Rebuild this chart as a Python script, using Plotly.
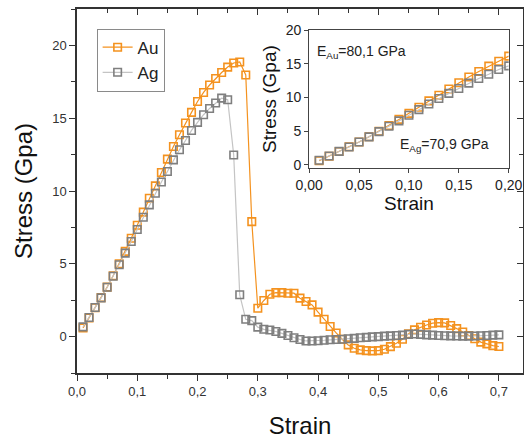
import plotly.graph_objects as go

strain = [round(0.01 * i, 2) for i in range(1, 71)]

stress_au = [0.60, 1.28, 1.98, 2.68, 3.40, 4.18, 5.00, 5.85, 6.75, 7.65,
             8.55, 9.50, 10.35, 11.27, 12.19, 13.06, 13.86, 14.67, 15.40, 16.15,
             16.77, 17.28, 17.73, 18.14, 18.51, 18.79, 18.86, 17.97, 7.90, 1.95,
             2.48, 2.91, 3.02, 3.02, 2.98, 2.98, 2.64, 2.41, 2.18, 1.68,
             1.19, 0.69, 0.25, -0.18, -0.57, -0.80, -0.91, -0.96, -0.98, -0.96,
             -0.87, -0.69, -0.46, -0.18, 0.20, 0.46, 0.64, 0.80, 0.92, 0.96,
             0.94, 0.76, 0.55, 0.32, 0.08, -0.15, -0.38, -0.50, -0.62, -0.68]

stress_ag = [0.67, 1.31, 2.00, 2.66, 3.39, 4.15, 4.93, 5.73, 6.53, 7.36,
             8.20, 9.05, 9.85, 10.62, 11.34, 12.14, 12.83, 13.47, 14.16, 14.71,
             15.24, 15.67, 16.04, 16.38, 16.27, 12.47, 2.87, 1.19, 1.10, 0.65,
             0.50, 0.45, 0.35, 0.22, 0.08, -0.08, -0.20, -0.30, -0.30, -0.28,
             -0.25, -0.22, -0.20, -0.18, -0.15, -0.12, -0.08, -0.05, -0.02, 0.00,
             0.03, 0.05, 0.08, 0.10, 0.15, 0.18, 0.15, 0.12, 0.10, 0.08,
             0.06, 0.05, 0.04, 0.03, 0.03, 0.04, 0.06, 0.08, 0.10, 0.12]

inset_n = 20
label_au = "Au"
label_ag = "Ag"
text_au = "E<sub>Au</sub>=80,1 GPa"
text_ag = "E<sub>Ag</sub>=70,9 GPa"

ORANGE = "#F4921F"
GREY_M = "#7F7F7F"
GREY_L = "#C4C4C4"
FONT = "Liberation Sans, Arial, sans-serif"

fig = go.Figure()

def add_series(xs, ys, name, lc, mc, xa, ya, legend):
    fig.add_trace(go.Scatter(
        x=xs, y=ys, name=name, mode="lines+markers",
        line=dict(color=lc, width=1.2),
        marker=dict(symbol="square-open", size=7.5, color=mc,
                    line=dict(color=mc, width=1.6)),
        xaxis=xa, yaxis=ya, showlegend=legend))

add_series(strain, stress_au, label_au, ORANGE, ORANGE, "x", "y", True)
add_series(strain, stress_ag, label_ag, GREY_L, GREY_M, "x", "y", True)
add_series(strain[:inset_n], stress_au[:inset_n], label_au, ORANGE, ORANGE, "x2", "y2", False)
add_series(strain[:inset_n], stress_ag[:inset_n], label_ag, GREY_L, GREY_M, "x2", "y2", False)
# helper trace for mirrored inner ticks
fig.add_trace(go.Scatter(x=[None], y=[None], xaxis="x3", yaxis="y3",
                         showlegend=False, hoverinfo="skip"))

AX = "#333333"
fig.update_layout(
    width=524, height=441,
    margin=dict(l=77, r=1, t=9, b=68, autoexpand=False),
    paper_bgcolor="white", plot_bgcolor="white",
    separators=", ",
    font=dict(family=FONT, color="#222222", size=13),
    showlegend=True,
    legend=dict(x=0.044, y=0.946, xanchor="left", yanchor="top",
                bgcolor="white", bordercolor="#8A8A8A", borderwidth=1,
                font=dict(size=17, color="#222222"),
                tracegroupgap=0, itemwidth=30),
    xaxis=dict(range=[0, 0.74], dtick=0.1, tick0=0, tickformat=".1f",
               automargin=False,
               showline=True, linecolor=AX, linewidth=1.5,
               ticks="outside", ticklen=6, tickwidth=1.3, tickcolor=AX,
               minor=dict(ticks="outside", dtick=0.05, ticklen=4, tickcolor=AX, tickwidth=1.2),
               showgrid=False, zeroline=False,
               tickfont=dict(size=13, color="#333333"),
               title=dict(text="Strain", font=dict(size=24, color="#111111"), standoff=19)),
    yaxis=dict(range=[-2.5, 22.5], dtick=5, tick0=0,
               automargin=False,
               showline=True, linecolor=AX, linewidth=1.5,
               ticks="outside", ticklen=6, tickwidth=1.3, tickcolor=AX,
               minor=dict(ticks="outside", dtick=2.5, ticklen=4, tickcolor=AX, tickwidth=1.2),
               showgrid=False, zeroline=False,
               tickfont=dict(size=13, color="#333333"),
               title=dict(text="Stress (Gpa)", font=dict(size=24, color="#111111"), standoff=13)),
    xaxis3=dict(overlaying="x", anchor="y", side="top", range=[0, 0.74], dtick=0.1, tick0=0,
                automargin=False,
                showline=True, linecolor=AX, linewidth=1.5,
                ticks="inside", ticklen=6, tickwidth=1.3, tickcolor=AX,
                minor=dict(ticks="inside", dtick=0.05, ticklen=4, tickcolor=AX, tickwidth=1.2),
                showticklabels=False, showgrid=False, zeroline=False),
    yaxis3=dict(overlaying="y", anchor="x", side="right", range=[-2.5, 22.5], dtick=5, tick0=0,
                automargin=False,
                showline=True, linecolor=AX, linewidth=1.5,
                ticks="inside", ticklen=6, tickwidth=1.3, tickcolor=AX,
                minor=dict(ticks="inside", dtick=2.5, ticklen=4, tickcolor=AX, tickwidth=1.2),
                showticklabels=False, showgrid=False, zeroline=False),
    xaxis2=dict(domain=[0.5205, 0.968], anchor="y2", range=[0, 0.2], dtick=0.05, tick0=0,
                tickformat=".2f", automargin=False,
                showline=True, mirror=True, linecolor="#444444", linewidth=1.2,
                ticks="outside", ticklen=4, tickwidth=1.1, tickcolor="#444444",
                showgrid=False, zeroline=False,
                tickfont=dict(size=14, color="#222222"),
                title=dict(text="Strain", font=dict(size=19, color="#111111"), standoff=1)),
    yaxis2=dict(domain=[0.5636, 0.9416], anchor="x2", range=[-0.45, 20], dtick=5, tick0=0,
                automargin=False,
                showline=True, mirror=True, linecolor="#444444", linewidth=1.2,
                ticks="outside", ticklen=4, tickwidth=1.1, tickcolor="#444444",
                showgrid=False, zeroline=False,
                tickfont=dict(size=14, color="#222222"),
                title=dict(text="Stress (Gpa)", font=dict(size=19, color="#111111"), standoff=4)),
)

fig.add_annotation(x=0.006, y=16.7, xref="x2", yref="y2", text=text_au,
                   showarrow=False, xanchor="left", yanchor="middle",
                   font=dict(size=14, color="#222222"))
fig.add_annotation(x=0.089, y=3.0, xref="x2", yref="y2", text=text_ag,
                   showarrow=False, xanchor="left", yanchor="middle",
                   font=dict(size=14, color="#222222"))

fig.write_html("out.html", config={"displayModeBar": False},
               post_script="document.body.style.margin='0';document.body.style.padding='0';")
